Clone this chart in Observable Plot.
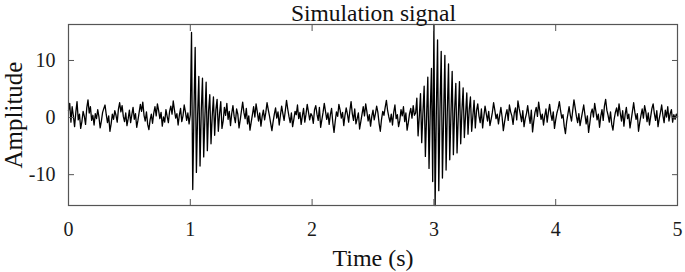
<!DOCTYPE html>
<html>
<head>
<meta charset="utf-8">
<script src="https://cdn.jsdelivr.net/npm/d3@7"></script>
<script src="https://cdn.jsdelivr.net/npm/@observablehq/plot@0.6"></script>
<style>
  body { margin: 0; background: #fff; position: relative; width: 685px; height: 272px; }
  #title { position: absolute; left: 69px; top: 0; width: 609px; height: 26px; line-height: 26px; text-align: center;
           font-family: "Liberation Serif", serif; font-size: 23.5px; color: #111; white-space: nowrap; }
  #chart { position: absolute; left: 0; top: 0; }
</style>
</head>
<body>
<div id="chart"></div>
<div id="title">Simulation signal</div>
<script>
// Sampling step (s)
const dt = 0.01;
// Amplitude samples, 0.00–0.99 s
const sec0 = [
  1.2, 2.5, -0.8, 1.9, 0.3, -1.6, 0.9, 2.8, -0.4, 0.6,
  -1.9, -0.7, 1.1, 0.2, -1.2, 1.7, 3.1, 0.8, 1.9, -0.5,
  0.4, -1.3, 0.7, -0.2, 1.4, 0.1, -1.8, -0.6, 0.9, 1.6,
  2.2, 0.5, -0.9, 0.3, -2.4, -1.1, 0.6, -0.3, 1.2, 0.4,
  -0.8, 1.5, 2.6, 1.0, 2.1, 0.2, -0.7, 0.8, -1.4, -0.2,
  1.3, -0.9, 0.5, 1.8, -0.3, 0.7, -1.7, -0.5, 0.9, 2.3,
  1.1, 2.7, 0.4, -0.6, 1.0, -1.2, -2.1, -0.4, 0.6, -1.0,
  0.8, 1.9, 0.3, 2.4, 1.2, -0.2, 0.9, -1.5, 0.1, -0.8,
  1.4, 0.2, -0.9, 1.1, 2.0, 0.6, 2.9, 1.3, -0.1, 0.7,
  -1.3, 0.4, 1.6, -0.7, 0.3, 2.2, 1.0, -0.5, 0.8, -1.1
];
// 1.00–1.99 s (first impulse at 1 s)
const sec1 = [
  0.5, 14.9, -12.6, 1.0, 12.3, -9.6, 0.4, 7.2, -8.5, 1.2,
  6.9, -6.9, 0.2, 6.2, -5.8, 1.1, 4.0, -4.6, 0.3, 3.6,
  -3.1, 1.4, 3.2, -2.4, 0.6, 2.8, -1.9,
  -0.6, 1.8, 0.4, 2.5, -0.3, 1.1, -1.4, 0.7, 2.1, 0.2,
  -0.9, 1.5, 0.6, -1.8, -0.4, 1.2, 2.7, 0.9, -0.2, 1.6,
  -1.1, 0.3, -2.2, -0.8, 0.5, 1.9, 0.1, 2.4, 1.0, -0.6,
  0.8, -1.5, 0.2, 1.3, -0.4, 0.9, 2.6, 1.4, 0.3, -1.0,
  -2.3, -0.7, 0.6, 1.7, -0.1, 1.0, -1.3, 0.4, 2.0, 0.7,
  -0.5, 1.2, 3.0, 1.5, 0.2, -0.9, 0.8, -1.6, -0.3, 1.1,
  0.5, 2.2, -0.2, 0.9, -1.2, 0.3, 1.6, -0.8, 0.6, 2.3,
  1.0, -0.4, 0.7
];
// 2.00–2.99 s (second impulse building up)
const sec2 = [
  0.3, -1.0, 1.4, 2.1, 0.6, -0.5, 1.8, -1.7, -0.4, 0.9,
  2.5, 1.1, -0.3, 0.8, -1.2, 0.5, 1.6, -0.9, -2.6, -0.6,
  1.0, 0.2, 2.3, 1.3, -0.1, 0.9, -1.4, 0.4, 1.7, 0.6,
  -0.8, 1.2, 2.8, 0.7, -0.5, 1.5, -1.1, -0.2, 0.8, -2.0,
  -0.7, 0.6, 1.9, 0.3, 2.4, 1.0, -0.6, 0.5, -1.5, 0.2,
  1.3, -0.4, 0.7, 2.0, 0.9, -1.0, -2.4, -0.3, 1.1, 0.4,
  1.8, 3.0, 1.2, 0.1, -0.8, 0.6, -1.3, 0.9, 2.2, -0.2,
  0.5, -1.6, -0.5, 1.4, 0.3, 1.9, -0.7, 0.8, -2.2, -0.9,
  0.7, 1.6, -0.1, 2.1, 0.4,
  0.8, 3.4, -3.2, 0.2, 4.2, -4.4, 0.9, 5.5, -6.8, 0.3,
  7.1, -8.9, 1.2, 8.6, -11.2
];
// 3.00–3.99 s
const sec3 = [
  16.3, -15.4, 0.8, 13.6, -12.8, 1.5, 11.6, -10.6, 0.4, 10.9,
  -9.2, 1.0, 9.4, -7.4, 0.6, 8.1, -6.5, 1.3, 6.0, -6.2,
  0.2, 6.3, -4.6, 1.1, 5.2, -3.5, 0.5, 4.3, -2.9, 1.4,
  3.6, -2.4, 0.3, 3.0, -1.8,
  1.2, 2.4, 0.3, -0.9, 1.5, -1.8, 0.2, 2.0, 0.7, -0.6,
  1.1, -1.4, -0.3, 0.9, 2.6, 1.3, -0.2, 0.6, -1.1, 0.4,
  1.8, 0.1, -2.3, -0.8, 0.5, 1.4, -0.5, 2.2, 1.0, 0.3,
  -1.2, 0.8, 1.7, -0.4, 2.9, 1.6, 0.5, -0.7, 1.2, -1.6,
  -0.2, 0.7, 2.1, 0.4, -1.0, 1.3, -2.5, -0.6, 0.9, 1.8,
  0.2, 2.7, 1.1, -0.3, 0.6, -1.3, 0.3, 1.5, -0.8, 0.9,
  2.3, 0.6, -0.5, 1.0, -1.9
];
// 4.00–5.00 s
const sec4 = [
  -0.4, 0.8, 1.6, 2.8, 1.2, -0.1, 0.5, -1.5, -2.8, -0.7,
  0.6, 1.9, 0.4, -0.6, 1.3, 3.1, 1.7, 0.2, -0.9, 0.7,
  -1.4, -0.2, 1.0, 2.2, 0.5, -1.1, 0.3, -2.6, -1.0, 0.8,
  1.5, 0.1, 2.5, 1.1, -0.4, 0.6, -1.7, 0.2, 1.4, -0.5,
  2.0, 3.2, 1.3, 0.4, -0.8, 1.0, -1.2, -2.2, -0.3, 0.9,
  1.7, 0.3, 2.4, 0.8, -0.6, 1.2, -1.5, 0.5, 1.8, -0.2,
  0.6, -1.8, -0.4, 1.1, 2.6, 0.9, -0.3, 0.7, -2.4, -0.9,
  0.4, 1.5, -0.1, 2.1, 1.0, -0.7, 0.8, -1.3, 0.2, 1.6,
  2.4, 0.7, -0.5, 1.2, -1.6, -0.2, 0.9, 2.2, 0.4, -0.9,
  1.3, 0.1, 1.9, -0.6, 0.7, 1.4, -0.8, 0.5, -0.3, 0.6,
  0.2
];
const xTicks = [0, 1, 2, 3, 4, 5];
const yTicks = [-10, 0, 10];
const xDomain = [0, 5];
const yDomain = [-15.4, 16.3];
const xLabel = ["Time (s)"];
const yLabel = ["Amplitude"];

const values = [...sec0, ...sec1, ...sec2, ...sec3, ...sec4];
const data = values.map((v, i) => ({t: +(i * dt).toFixed(2), v}));

const frameColor = "#555";
const chart = Plot.plot({
  width: 685,
  height: 272,
  marginTop: 24,
  marginBottom: 67,
  marginLeft: 68,
  marginRight: 8,
  style: {fontFamily: "'Liberation Serif', serif", fontSize: "20px", color: "#1a1a1a", background: "#fff", overflow: "visible"},
  x: {domain: xDomain, label: null},
  y: {domain: yDomain, label: null},
  marks: [
    Plot.line(data, {x: "t", y: "v", stroke: "#000", strokeWidth: 1.3}),
    Plot.frame({stroke: frameColor, strokeWidth: 1.2}),
    Plot.axisX(xTicks, {anchor: "bottom", tickSize: -6, stroke: frameColor, tickFormat: () => "", label: null}),
    Plot.axisX(xTicks, {anchor: "top", tickSize: -6, stroke: frameColor, tickFormat: () => "", label: null}),
    Plot.axisY(yTicks, {anchor: "left", tickSize: -6, stroke: frameColor, tickFormat: () => "", label: null}),
    Plot.axisY(yTicks, {anchor: "right", tickSize: -6, stroke: frameColor, tickFormat: () => "", label: null}),
    Plot.axisX(xTicks, {anchor: "bottom", tickSize: 0, tickPadding: 16, tickFormat: d => String(d), label: null, fontSize: 20}),
    Plot.axisY(yTicks, {anchor: "left", tickSize: 0, tickPadding: 13, tickFormat: d => String(d), label: null, fontSize: 20}),
    Plot.text(xLabel, {text: d => d, frameAnchor: "bottom", textAnchor: "middle", lineAnchor: "middle", dy: 53, fontSize: 24, fill: "#111"}),
    Plot.text(yLabel, {text: d => d, frameAnchor: "left", textAnchor: "middle", lineAnchor: "middle", rotate: -90, dx: -55, fontSize: 25, fill: "#111"})
  ]
});
document.getElementById("chart").appendChild(chart);
</script>
</body>
</html>
